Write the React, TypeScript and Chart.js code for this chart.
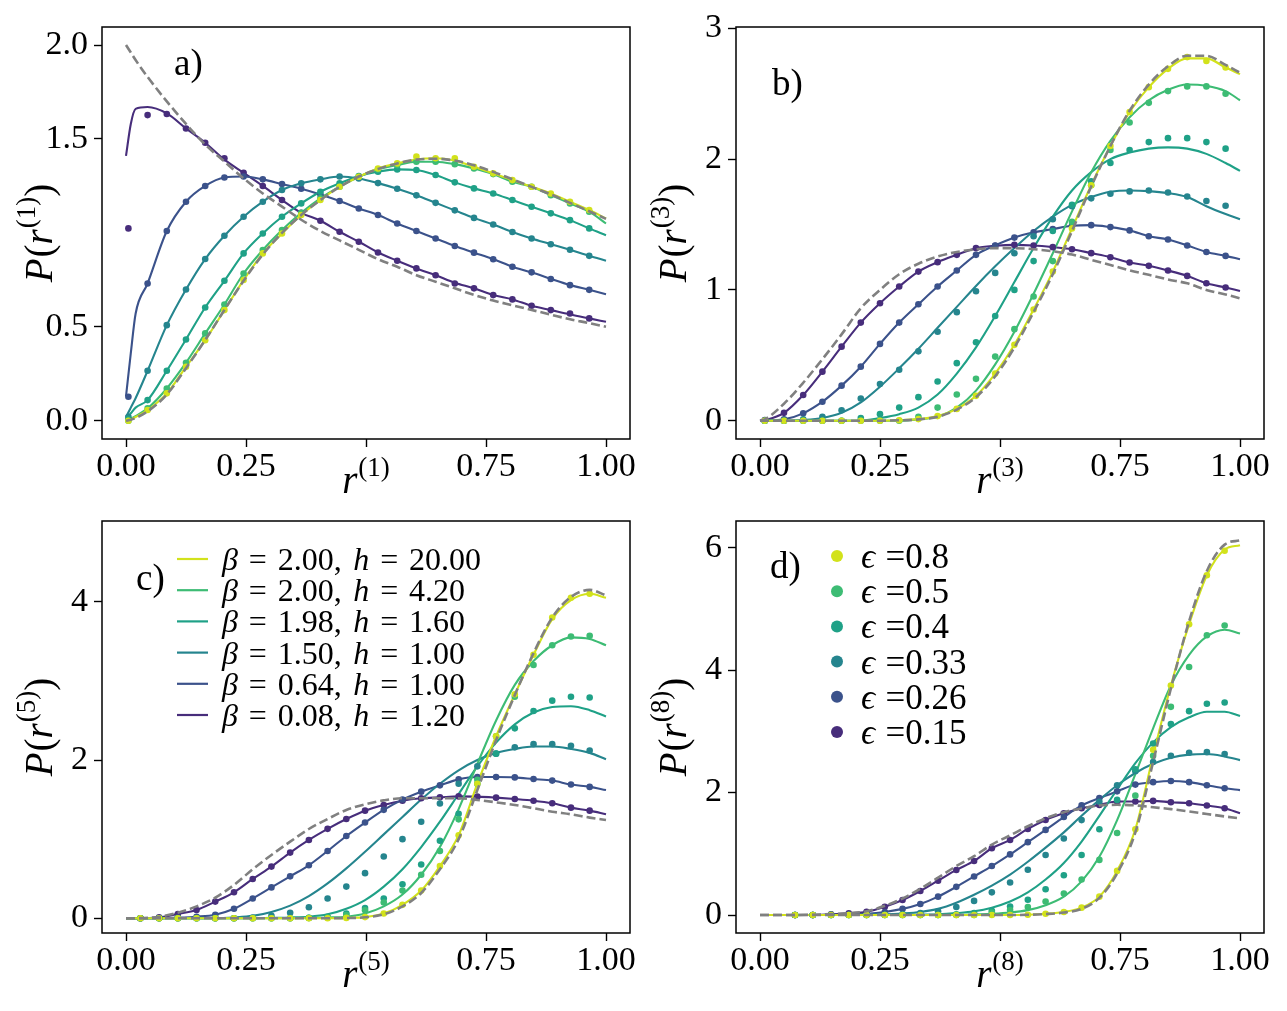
import React, { useEffect, useRef } from 'react';
import { Chart, registerables } from 'chart.js';

Chart.register(...registerables);

const W = 1287;
const H = 1011;
const FONT = '"Liberation Serif", "DejaVu Serif", serif';

// viridis-like colours, legend order (top to bottom)
const COLORS = ['#d2e21b', '#3dbc74', '#1fa187', '#25858e', '#3b528b', '#472d7b'];
const GREY = '#808080';
const BETA = ['2.00', '2.00', '1.98', '1.50', '0.64', '0.08'];
const H_VAL = ['20.00', '4.20', '1.60', '1.00', '1.00', '1.20'];
const EPS = ['0.8', '0.5', '0.4', '0.33', '0.26', '0.15'];
const X_TICKS = [0, 0.25, 0.5, 0.75, 1];

// ---------- panel a) r^(1) ----------
const XA_LINE = [0, 0.01, 0.02, 0.045, 0.085, 0.125, 0.165, 0.205, 0.245, 0.285, 0.325, 0.365, 0.405, 0.445, 0.485, 0.525, 0.565, 0.605, 0.645, 0.685, 0.725, 0.765, 0.805, 0.845, 0.885, 0.925, 0.965, 1.0];
const XA_DOT = [0.005, 0.045, 0.085, 0.125, 0.165, 0.205, 0.245, 0.285, 0.325, 0.365, 0.405, 0.445, 0.485, 0.525, 0.565, 0.605, 0.645, 0.685, 0.725, 0.765, 0.805, 0.845, 0.885, 0.925, 0.965];
const A_Y_LINE = [0, 0.008, 0.02, 0.057, 0.146, 0.287, 0.429, 0.589, 0.749, 0.891, 0.997, 1.095, 1.175, 1.246, 1.299, 1.343, 1.37, 1.391, 1.397, 1.384, 1.352, 1.317, 1.281, 1.246, 1.21, 1.166, 1.122, 1.077];
const A_G_LINE = [0, 0.01, 0.025, 0.066, 0.172, 0.309, 0.465, 0.619, 0.784, 0.909, 1.015, 1.107, 1.184, 1.246, 1.299, 1.338, 1.361, 1.379, 1.379, 1.366, 1.343, 1.313, 1.272, 1.246, 1.201, 1.157, 1.113, 1.05];
const A_TG_LINE = [0.01, 0.04, 0.07, 0.11, 0.266, 0.433, 0.603, 0.745, 0.891, 0.997, 1.086, 1.157, 1.219, 1.264, 1.303, 1.326, 1.338, 1.335, 1.308, 1.269, 1.237, 1.21, 1.175, 1.139, 1.104, 1.068, 1.024, 0.988];
const A_T_LINE = [0.02, 0.07, 0.12, 0.266, 0.509, 0.699, 0.861, 0.985, 1.086, 1.166, 1.228, 1.264, 1.285, 1.3, 1.29, 1.265, 1.235, 1.2, 1.16, 1.12, 1.08, 1.045, 1.005, 0.97, 0.94, 0.91, 0.878, 0.852];
const A_B_LINE = [0.13, 0.36, 0.57, 0.731, 1.01, 1.166, 1.25, 1.295, 1.3, 1.285, 1.26, 1.235, 1.205, 1.17, 1.13, 1.095, 1.05, 1.01, 0.97, 0.93, 0.895, 0.86, 0.82, 0.79, 0.755, 0.722, 0.697, 0.674];
const A_P_LINE = [1.41, 1.58, 1.66, 1.67, 1.636, 1.556, 1.48, 1.39, 1.32, 1.25, 1.175, 1.107, 1.065, 1.006, 0.953, 0.896, 0.852, 0.811, 0.775, 0.735, 0.705, 0.669, 0.646, 0.612, 0.589, 0.566, 0.545, 0.527];
const A_Y_DOT = [0, 0.057, 0.146, 0.287, 0.429, 0.589, 0.749, 0.891, 0.997, 1.095, 1.175, 1.246, 1.299, 1.343, 1.37, 1.406, 1.397, 1.397, 1.352, 1.317, 1.281, 1.246, 1.21, 1.166, 1.122];
const A_G_DOT = [0, 0.066, 0.172, 0.309, 0.465, 0.619, 0.784, 0.909, 1.015, 1.107, 1.184, 1.246, 1.299, 1.338, 1.361, 1.379, 1.379, 1.366, 1.343, 1.313, 1.272, 1.246, 1.201, 1.157, 1.113];
const A_TG_DOT = [0.01, 0.11, 0.266, 0.433, 0.603, 0.745, 0.891, 0.997, 1.086, 1.157, 1.219, 1.264, 1.303, 1.326, 1.338, 1.335, 1.308, 1.269, 1.237, 1.21, 1.175, 1.139, 1.104, 1.068, 1.024];
const A_T_DOT = [0.02, 0.266, 0.509, 0.699, 0.861, 0.985, 1.086, 1.166, 1.228, 1.264, 1.285, 1.3, 1.29, 1.265, 1.235, 1.2, 1.16, 1.12, 1.08, 1.045, 1.005, 0.97, 0.94, 0.91, 0.878];
const A_B_DOT = [0.128, 0.731, 1.01, 1.166, 1.25, 1.295, 1.3, 1.285, 1.26, 1.235, 1.205, 1.17, 1.13, 1.095, 1.05, 1.01, 0.97, 0.93, 0.895, 0.86, 0.82, 0.79, 0.755, 0.722, 0.697];
const A_P_DOT = [1.024, 1.627, 1.633, 1.556, 1.48, 1.397, 1.32, 1.25, 1.175, 1.107, 1.065, 1.006, 0.953, 0.896, 0.852, 0.811, 0.775, 0.731, 0.705, 0.669, 0.646, 0.612, 0.589, 0.571, 0.545];
const A_POI = [2.0, 1.96, 1.92, 1.83, 1.7, 1.58, 1.47, 1.38, 1.29, 1.21, 1.14, 1.07, 1.01, 0.96, 0.91, 0.86, 0.82, 0.775, 0.74, 0.705, 0.67, 0.64, 0.615, 0.59, 0.565, 0.54, 0.52, 0.5];
const A_GUE = [0, 0.005, 0.015, 0.05, 0.14, 0.28, 0.43, 0.59, 0.745, 0.885, 1.0, 1.095, 1.175, 1.245, 1.3, 1.34, 1.37, 1.39, 1.395, 1.385, 1.36, 1.325, 1.285, 1.245, 1.205, 1.16, 1.115, 1.075];

// ---------- panel b) r^(3) ----------
const XB_LINE = [0, 0.01, 0.05, 0.09, 0.13, 0.17, 0.21, 0.25, 0.29, 0.33, 0.37, 0.41, 0.45, 0.49, 0.53, 0.57, 0.61, 0.65, 0.69, 0.73, 0.77, 0.81, 0.85, 0.89, 0.93, 0.97, 1.0];
const XB_DOT = [0.01, 0.05, 0.09, 0.13, 0.17, 0.21, 0.25, 0.29, 0.33, 0.37, 0.41, 0.45, 0.49, 0.53, 0.57, 0.61, 0.65, 0.69, 0.73, 0.77, 0.81, 0.85, 0.89, 0.93, 0.97];
const B_Y_LINE = [0, 0, 0, 0, 0, 0, 0, 0, 0.003, 0.012, 0.035, 0.09, 0.19, 0.36, 0.58, 0.85, 1.14, 1.47, 1.8, 2.1, 2.36, 2.55, 2.69, 2.77, 2.77, 2.7, 2.65];
const B_G_LINE = [0, 0, 0, 0, 0, 0, 0, 0, 0, 0.01, 0.03, 0.1, 0.23, 0.43, 0.68, 0.97, 1.28, 1.6, 1.9, 2.14, 2.32, 2.45, 2.53, 2.57, 2.56, 2.52, 2.45];
const B_TG_LINE = [0, 0, 0, 0, 0, 0, 0, 0.02, 0.05, 0.1, 0.2, 0.36, 0.56, 0.8, 1.06, 1.32, 1.56, 1.76, 1.9, 2.0, 2.05, 2.08, 2.09, 2.08, 2.04, 1.97, 1.91];
const B_T_LINE = [0, 0, 0, 0.005, 0.02, 0.06, 0.14, 0.26, 0.4, 0.55, 0.71, 0.87, 1.03, 1.18, 1.32, 1.45, 1.56, 1.65, 1.71, 1.75, 1.76, 1.755, 1.74, 1.71, 1.64, 1.58, 1.54];
const B_B_LINE = [0, 0, 0.01, 0.056, 0.145, 0.268, 0.413, 0.587, 0.75, 0.89, 1.026, 1.148, 1.268, 1.34, 1.4, 1.44, 1.465, 1.49, 1.495, 1.48, 1.455, 1.41, 1.385, 1.34, 1.29, 1.26, 1.235];
const B_P_LINE = [0, 0.005, 0.06, 0.196, 0.375, 0.566, 0.75, 0.898, 1.026, 1.14, 1.212, 1.268, 1.319, 1.337, 1.344, 1.339, 1.327, 1.311, 1.281, 1.25, 1.209, 1.184, 1.148, 1.107, 1.051, 1.018, 0.992];
const B_Y_DOT = [0, 0, 0, 0, 0, 0, 0, 0.003, 0.012, 0.035, 0.09, 0.19, 0.36, 0.58, 0.85, 1.14, 1.47, 1.8, 2.1, 2.36, 2.55, 2.69, 2.78, 2.75, 2.7];
const B_G_DOT = [0, 0, 0, 0, 0, 0, 0, 0, 0.03, 0.1, 0.2, 0.32, 0.49, 0.7, 0.95, 1.22, 1.52, 1.8, 2.07, 2.28, 2.43, 2.52, 2.556, 2.556, 2.5];
const B_TG_DOT = [0, 0, 0, 0, 0, 0.02, 0.05, 0.1, 0.18, 0.3, 0.44, 0.6, 0.8, 1.0, 1.22, 1.45, 1.65, 1.83, 1.97, 2.07, 2.13, 2.16, 2.16, 2.13, 2.08];
const B_T_DOT = [0, 0, 0.01, 0.03, 0.08, 0.17, 0.28, 0.39, 0.53, 0.68, 0.83, 0.99, 1.13, 1.28, 1.41, 1.54, 1.64, 1.7, 1.735, 1.753, 1.76, 1.745, 1.714, 1.68, 1.643];
const B_B_DOT = [0, 0.01, 0.056, 0.145, 0.268, 0.413, 0.587, 0.75, 0.89, 1.026, 1.148, 1.268, 1.34, 1.4, 1.44, 1.465, 1.49, 1.495, 1.48, 1.455, 1.41, 1.385, 1.34, 1.29, 1.26];
const B_P_DOT = [0.005, 0.06, 0.196, 0.375, 0.566, 0.75, 0.898, 1.026, 1.14, 1.212, 1.268, 1.319, 1.337, 1.344, 1.339, 1.327, 1.311, 1.281, 1.25, 1.209, 1.184, 1.148, 1.107, 1.051, 1.018];
const B_POI = [0, 0.01, 0.13, 0.29, 0.47, 0.66, 0.86, 1.0, 1.12, 1.2, 1.255, 1.29, 1.31, 1.319, 1.319, 1.311, 1.295, 1.27, 1.23, 1.19, 1.15, 1.115, 1.08, 1.05, 1.0, 0.965, 0.936];
const B_GUE = [0, 0, 0, 0, 0, 0, 0, 0, 0.003, 0.01, 0.03, 0.085, 0.18, 0.34, 0.56, 0.83, 1.12, 1.45, 1.79, 2.1, 2.37, 2.57, 2.71, 2.79, 2.79, 2.72, 2.66];

// ---------- panel c) r^(5) ----------
const XC_LINE = [0, 0.03, 0.069, 0.108, 0.147, 0.186, 0.225, 0.264, 0.303, 0.342, 0.381, 0.42, 0.459, 0.498, 0.537, 0.576, 0.615, 0.654, 0.693, 0.732, 0.771, 0.81, 0.849, 0.888, 0.927, 0.966, 1.0];
const XC_DOT = [0.03, 0.069, 0.108, 0.147, 0.186, 0.225, 0.264, 0.303, 0.342, 0.381, 0.42, 0.459, 0.498, 0.537, 0.576, 0.615, 0.654, 0.693, 0.732, 0.771, 0.81, 0.849, 0.888, 0.927, 0.966];
const C_Y_LINE = [0, 0, 0, 0, 0, 0, 0, 0, 0, 0, 0, 0, 0.005, 0.015, 0.06, 0.17, 0.35, 0.66, 1.05, 1.7, 2.3, 2.83, 3.33, 3.78, 4.02, 4.1, 4.05];
const C_G_LINE = [0, 0, 0, 0, 0, 0, 0, 0, 0, 0, 0.005, 0.01, 0.02, 0.06, 0.15, 0.3, 0.55, 0.9, 1.38, 1.95, 2.5, 2.95, 3.25, 3.45, 3.55, 3.53, 3.45];
const C_TG_LINE = [0, 0, 0, 0, 0, 0, 0, 0, 0.005, 0.01, 0.02, 0.05, 0.12, 0.23, 0.4, 0.62, 0.9, 1.22, 1.57, 1.92, 2.22, 2.45, 2.6, 2.67, 2.68, 2.63, 2.55];
const C_T_LINE = [0, 0, 0, 0, 0, 0, 0.01, 0.03, 0.08, 0.16, 0.28, 0.44, 0.63, 0.84, 1.06, 1.28, 1.5, 1.7, 1.87, 2.0, 2.09, 2.14, 2.17, 2.17, 2.14, 2.09, 2.01];
const C_B_LINE = [0, 0, 0.002, 0.008, 0.02, 0.045, 0.12, 0.25, 0.39, 0.53, 0.67, 0.85, 1.04, 1.21, 1.37, 1.5, 1.6, 1.68, 1.755, 1.785, 1.785, 1.78, 1.76, 1.74, 1.69, 1.66, 1.62];
const C_P_LINE = [0, 0, 0.013, 0.055, 0.105, 0.211, 0.328, 0.497, 0.653, 0.83, 0.99, 1.13, 1.255, 1.36, 1.432, 1.486, 1.516, 1.528, 1.54, 1.537, 1.524, 1.507, 1.486, 1.453, 1.398, 1.36, 1.314];
const C_Y_DOT = [0, 0, 0, 0, 0, 0, 0, 0, 0, 0, 0, 0.005, 0.015, 0.06, 0.17, 0.35, 0.66, 1.05, 1.7, 2.3, 2.83, 3.33, 3.8, 4.05, 4.1];
const C_G_DOT = [0, 0, 0, 0, 0, 0, 0, 0, 0, 0.005, 0.01, 0.04, 0.1, 0.2, 0.35, 0.55, 0.85, 1.25, 1.75, 2.3, 2.8, 3.2, 3.45, 3.56, 3.57];
const C_TG_DOT = [0, 0, 0, 0, 0, 0, 0, 0, 0, 0.005, 0.02, 0.06, 0.13, 0.25, 0.43, 0.68, 0.98, 1.32, 1.7, 2.08, 2.4, 2.62, 2.75, 2.8, 2.79];
const C_T_DOT = [0, 0, 0, 0, 0, 0, 0.01, 0.03, 0.07, 0.14, 0.25, 0.4, 0.57, 0.78, 1.0, 1.22, 1.45, 1.7, 1.92, 2.08, 2.16, 2.2, 2.2, 2.18, 2.12];
const C_B_DOT = [0, 0.002, 0.008, 0.02, 0.045, 0.12, 0.25, 0.39, 0.53, 0.67, 0.85, 1.04, 1.21, 1.37, 1.5, 1.6, 1.68, 1.755, 1.785, 1.785, 1.78, 1.76, 1.74, 1.69, 1.66];
const C_P_DOT = [0, 0.013, 0.055, 0.105, 0.211, 0.328, 0.497, 0.653, 0.83, 0.99, 1.13, 1.255, 1.36, 1.432, 1.486, 1.516, 1.528, 1.54, 1.537, 1.524, 1.507, 1.486, 1.453, 1.398, 1.36];
const C_POI = [0, 0.002, 0.02, 0.07, 0.15, 0.26, 0.421, 0.619, 0.8, 0.968, 1.128, 1.255, 1.368, 1.44, 1.49, 1.516, 1.516, 1.516, 1.516, 1.495, 1.465, 1.432, 1.39, 1.347, 1.314, 1.272, 1.242];
const C_GUE = [0, 0, 0, 0, 0, 0, 0, 0, 0, 0, 0, 0, 0.003, 0.012, 0.05, 0.15, 0.32, 0.62, 1.0, 1.62, 2.25, 2.82, 3.35, 3.8, 4.06, 4.15, 4.08];

// ---------- panel d) r^(8) ----------
const XD_LINE = [0, 0.073, 0.11, 0.148, 0.185, 0.222, 0.26, 0.297, 0.334, 0.371, 0.409, 0.446, 0.483, 0.521, 0.558, 0.595, 0.633, 0.67, 0.707, 0.744, 0.782, 0.819, 0.856, 0.894, 0.931, 0.968, 1.0];
const XD_DOT = [0.073, 0.11, 0.148, 0.185, 0.222, 0.26, 0.297, 0.334, 0.371, 0.409, 0.446, 0.483, 0.521, 0.558, 0.595, 0.633, 0.67, 0.707, 0.744, 0.782, 0.819, 0.856, 0.894, 0.931, 0.968];
const D_Y_LINE = [0, 0, 0, 0, 0, 0, 0, 0, 0, 0, 0, 0, 0, 0, 0.005, 0.02, 0.05, 0.12, 0.3, 0.72, 1.4, 2.6, 3.75, 4.75, 5.55, 5.97, 6.04];
const D_G_LINE = [0, 0, 0, 0, 0, 0, 0, 0, 0, 0, 0, 0.01, 0.02, 0.04, 0.08, 0.16, 0.3, 0.55, 0.95, 1.55, 2.3, 3.05, 3.75, 4.25, 4.55, 4.66, 4.6];
const D_TG_LINE = [0, 0, 0, 0, 0, 0, 0, 0, 0.005, 0.01, 0.03, 0.06, 0.12, 0.22, 0.37, 0.58, 0.85, 1.2, 1.62, 2.05, 2.48, 2.82, 3.07, 3.23, 3.32, 3.32, 3.25];
const D_T_LINE = [0, 0, 0, 0, 0, 0.005, 0.01, 0.025, 0.05, 0.1, 0.2, 0.33, 0.48, 0.66, 0.87, 1.1, 1.35, 1.62, 1.88, 2.12, 2.32, 2.47, 2.57, 2.62, 2.63, 2.59, 2.53];
const D_B_LINE = [0, 0, 0, 0.003, 0.008, 0.02, 0.05, 0.1, 0.18, 0.3, 0.46, 0.63, 0.8, 0.99, 1.19, 1.39, 1.6, 1.79, 1.91, 2.02, 2.13, 2.17, 2.19, 2.17, 2.12, 2.07, 2.04];
const D_P_LINE = [0, 0, 0, 0.011, 0.027, 0.054, 0.136, 0.245, 0.392, 0.561, 0.736, 0.883, 1.09, 1.226, 1.406, 1.553, 1.662, 1.744, 1.798, 1.853, 1.853, 1.864, 1.842, 1.826, 1.788, 1.744, 1.662];
const D_Y_DOT = [0, 0, 0, 0, 0, 0, 0, 0, 0, 0, 0, 0, 0, 0.005, 0.02, 0.05, 0.12, 0.3, 0.72, 1.4, 2.7, 3.75, 4.75, 5.55, 5.95];
const D_G_DOT = [0, 0, 0, 0, 0, 0, 0, 0, 0, 0, 0, 0.04, 0.08, 0.13, 0.22, 0.35, 0.58, 0.9, 1.34, 1.95, 2.6, 3.4, 4.05, 4.57, 4.73];
const D_TG_DOT = [0, 0, 0, 0, 0, 0, 0, 0, 0, 0.01, 0.03, 0.07, 0.14, 0.25, 0.42, 0.65, 0.98, 1.4, 1.88, 2.38, 2.8, 3.12, 3.33, 3.45, 3.47];
const D_T_DOT = [0, 0, 0, 0, 0, 0.005, 0.01, 0.03, 0.06, 0.13, 0.23, 0.37, 0.53, 0.74, 0.98, 1.25, 1.55, 1.85, 2.12, 2.35, 2.5, 2.6, 2.65, 2.66, 2.63];
const D_B_DOT = [0, 0, 0.003, 0.008, 0.02, 0.05, 0.1, 0.18, 0.3, 0.46, 0.63, 0.8, 0.99, 1.19, 1.39, 1.6, 1.79, 1.91, 2.02, 2.13, 2.17, 2.19, 2.17, 2.12, 2.07];
const D_P_DOT = [0, 0, 0.011, 0.027, 0.054, 0.136, 0.245, 0.392, 0.561, 0.736, 0.883, 1.09, 1.226, 1.406, 1.553, 1.662, 1.744, 1.798, 1.853, 1.853, 1.864, 1.842, 1.826, 1.788, 1.744];
const D_POI = [0, 0, 0.005, 0.015, 0.03, 0.06, 0.15, 0.27, 0.43, 0.61, 0.8, 0.96, 1.15, 1.3, 1.45, 1.58, 1.68, 1.74, 1.79, 1.8, 1.79, 1.76, 1.73, 1.69, 1.65, 1.61, 1.58];
const D_GUE = [0, 0, 0, 0, 0, 0, 0, 0, 0, 0, 0, 0, 0, 0, 0.003, 0.015, 0.04, 0.1, 0.28, 0.68, 1.35, 2.5, 3.7, 4.8, 5.62, 6.05, 6.12];

type Area = { l: number; t: number; r: number; b: number };
type Panel = {
  key: string;
  area: Area;
  yMin: number;
  yMax: number;
  yTicks: number[];
  yDigits: number;
  xLine: number[];
  xDot: number[];
  lines: number[][];
  dots: number[][];
  poisson: number[];
  gue: number[];
  label: string;
  labelPos: [number, number];
  sup: string;
  legend: 'lines' | 'dots' | null;
};

const PANELS: Panel[] = [
  {
    key: 'a', area: { l: 102, t: 27, r: 630, b: 439 }, yMin: -0.097, yMax: 2.096,
    yTicks: [0, 0.5, 1.5, 2.0], yDigits: 1, xLine: XA_LINE, xDot: XA_DOT,
    lines: [A_Y_LINE, A_G_LINE, A_TG_LINE, A_T_LINE, A_B_LINE, A_P_LINE],
    dots: [A_Y_DOT, A_G_DOT, A_TG_DOT, A_T_DOT, A_B_DOT, A_P_DOT],
    poisson: A_POI, gue: A_GUE, label: 'a)', labelPos: [72, 48], sup: '1', legend: null,
  },
  {
    key: 'b', area: { l: 736, t: 27, r: 1264, b: 439 }, yMin: -0.14, yMax: 3.01,
    yTicks: [0, 1, 2, 3], yDigits: 0, xLine: XB_LINE, xDot: XB_DOT,
    lines: [B_Y_LINE, B_G_LINE, B_TG_LINE, B_T_LINE, B_B_LINE, B_P_LINE],
    dots: [B_Y_DOT, B_G_DOT, B_TG_DOT, B_T_DOT, B_B_DOT, B_P_DOT],
    poisson: B_POI, gue: B_GUE, label: 'b)', labelPos: [36, 68], sup: '3', legend: null,
  },
  {
    key: 'c', area: { l: 102, t: 521, r: 630, b: 933 }, yMin: -0.186, yMax: 5.02,
    yTicks: [0, 2, 4], yDigits: 0, xLine: XC_LINE, xDot: XC_DOT,
    lines: [C_Y_LINE, C_G_LINE, C_TG_LINE, C_T_LINE, C_B_LINE, C_P_LINE],
    dots: [C_Y_DOT, C_G_DOT, C_TG_DOT, C_T_DOT, C_B_DOT, C_P_DOT],
    poisson: C_POI, gue: C_GUE, label: 'c)', labelPos: [34, 69], sup: '5', legend: 'lines',
  },
  {
    key: 'd', area: { l: 736, t: 521, r: 1264, b: 933 }, yMin: -0.294, yMax: 6.436,
    yTicks: [0, 2, 4, 6], yDigits: 0, xLine: XD_LINE, xDot: XD_DOT,
    lines: [D_Y_LINE, D_G_LINE, D_TG_LINE, D_T_LINE, D_B_LINE, D_P_LINE],
    dots: [D_Y_DOT, D_G_DOT, D_TG_DOT, D_T_DOT, D_B_DOT, D_P_DOT],
    poisson: D_POI, gue: D_GUE, label: 'd)', labelPos: [34, 57], sup: '8', legend: 'dots',
  },
];

type Seg = { t: string; s: number; it?: boolean; dy?: number; g?: number };
const fontOf = (sg: Seg) => `${sg.it ? 'italic ' : ''}${sg.s}px ${FONT}`;
function segsWidth(ctx: CanvasRenderingContext2D, segs: Seg[]) {
  let w = 0;
  for (const sg of segs) {
    ctx.font = fontOf(sg);
    w += ctx.measureText(sg.t).width + (sg.g || 0);
  }
  return w;
}
function drawSegs(ctx: CanvasRenderingContext2D, segs: Seg[], x: number, y: number) {
  let cx = x;
  for (const sg of segs) {
    ctx.font = fontOf(sg);
    ctx.fillText(sg.t, cx, y + (sg.dy || 0));
    cx += ctx.measureText(sg.t).width + (sg.g || 0);
  }
}

function decorPlugin(p: Panel) {
  return {
    id: 'decor_' + p.key,
    afterDraw(chart: any) {
      const ctx: CanvasRenderingContext2D = chart.ctx;
      const a = chart.chartArea;
      ctx.save();
      ctx.strokeStyle = '#000';
      ctx.lineWidth = 1.5;
      ctx.strokeRect(a.left, a.top, a.right - a.left, a.bottom - a.top);
      ctx.fillStyle = '#000';
      ctx.textAlign = 'left';
      ctx.textBaseline = 'alphabetic';

      // panel tag
      ctx.font = `37px ${FONT}`;
      ctx.fillText(p.label, a.left + p.labelPos[0], a.top + p.labelPos[1]);

      // x-axis title
      const xs: Seg[] = [
        { t: 'r', s: 39, it: true, g: 1 },
        { t: `(${p.sup})`, s: 27, dy: -17 },
      ];
      const xw = segsWidth(ctx, xs);
      const xc = chart.scales.x.getPixelForValue(0.5);
      drawSegs(ctx, xs, xc - xw / 2, a.bottom + 54);

      // y-axis title (rotated)
      const ys: Seg[] = [
        { t: 'P', s: 39, it: true, g: 1 },
        { t: '(', s: 39 },
        { t: 'r', s: 39, it: true, g: 1 },
        { t: `(${p.sup})`, s: 27, dy: -17 },
        { t: ')', s: 39 },
      ];
      const yw = segsWidth(ctx, ys);
      ctx.save();
      ctx.translate(a.left - 50, (a.top + a.bottom) / 2);
      ctx.rotate(-Math.PI / 2);
      drawSegs(ctx, ys, -yw / 2, 0);
      ctx.restore();

      if (p.legend === 'lines') {
        const F = 32;
        const gap = F * 0.34;
        for (let i = 0; i < 6; i++) {
          const y = a.top + 38 + i * 31.2;
          ctx.strokeStyle = COLORS[i];
          ctx.lineWidth = 2.2;
          ctx.beginPath();
          ctx.moveTo(a.left + 75, y);
          ctx.lineTo(a.left + 106, y);
          ctx.stroke();
          const segs: Seg[] = [
            { t: 'β', s: F, it: true, g: gap },
            { t: '=', s: F, g: gap },
            { t: BETA[i] + ',', s: F, g: F * 0.36 },
            { t: 'h', s: F, it: true, g: gap },
            { t: '=', s: F, g: gap },
            { t: H_VAL[i], s: F },
          ];
          drawSegs(ctx, segs, a.left + 120, y + 11);
        }
      } else if (p.legend === 'dots') {
        const F = 35;
        for (let i = 0; i < 6; i++) {
          const y = a.top + 35 + i * 35.2;
          ctx.fillStyle = COLORS[i];
          ctx.beginPath();
          ctx.arc(a.left + 101, y, 6, 0, Math.PI * 2);
          ctx.fill();
          ctx.fillStyle = '#000';
          const segs: Seg[] = [
            { t: 'ϵ', s: F, it: true, g: F * 0.3 },
            { t: '=' + EPS[i], s: F },
          ];
          drawSegs(ctx, segs, a.left + 125, y + 12);
        }
      }
      ctx.restore();
    },
  };
}

function buildConfig(p: Panel): any {
  const datasets: any[] = [];
  datasets.push({
    label: 'Poisson limit',
    data: p.xLine.map((x, j) => ({ x, y: p.poisson[j] })),
    showLine: true, borderColor: GREY, borderWidth: 2.6, borderDash: [9, 4],
    pointRadius: 0, cubicInterpolationMode: 'monotone', order: 0,
  });
  datasets.push({
    label: 'GUE limit',
    data: p.xLine.map((x, j) => ({ x, y: p.gue[j] })),
    showLine: true, borderColor: GREY, borderWidth: 2.6, borderDash: [9, 4],
    pointRadius: 0, cubicInterpolationMode: 'monotone', order: 0,
  });
  p.dots.forEach((ys, i) => {
    datasets.push({
      label: `ϵ =${EPS[i]}`,
      data: p.xDot.map((x, j) => ({ x, y: ys[j] })),
      showLine: false, pointRadius: 3.3, pointBorderWidth: 0,
      pointBackgroundColor: COLORS[i], backgroundColor: COLORS[i], borderColor: COLORS[i], order: 1,
    });
  });
  p.lines.forEach((ys, i) => {
    datasets.push({
      label: `β = ${BETA[i]}, h = ${H_VAL[i]}`,
      data: p.xLine.map((x, j) => ({ x, y: ys[j] })),
      showLine: true, borderColor: COLORS[i], borderWidth: 2.1, pointRadius: 0,
      cubicInterpolationMode: 'monotone', order: 2,
    });
  });

  const tickFont = { family: FONT, size: 34 };
  return {
    type: 'scatter',
    data: { datasets },
    options: {
      animation: false,
      responsive: false,
      events: [],
      layout: {
        padding: { left: p.area.l - 100, top: p.area.t, right: W - p.area.r, bottom: H - p.area.b - 90 },
      },
      plugins: { legend: { display: false }, tooltip: { enabled: false } },
      scales: {
        x: {
          type: 'linear', min: -0.05, max: 1.05,
          afterBuildTicks: (s: any) => { s.ticks = X_TICKS.map((v) => ({ value: v })); },
          afterFit: (s: any) => { s.height = 90; },
          ticks: {
            autoSkip: false, maxRotation: 0, minRotation: 0, padding: 0, color: '#000', font: tickFont,
            callback: (v: any) => (v === 0.5 ? '' : Number(v).toFixed(2)),
          },
          grid: { display: true, drawOnChartArea: false, drawTicks: true, tickLength: 8, tickWidth: 1.4, tickColor: '#000' },
          border: { display: false },
        },
        y: {
          type: 'linear', min: p.yMin, max: p.yMax,
          afterBuildTicks: (s: any) => { s.ticks = p.yTicks.map((v) => ({ value: v })); },
          afterFit: (s: any) => { s.width = 100; },
          ticks: {
            autoSkip: false, padding: 6, color: '#000', font: tickFont,
            callback: (v: any) => Number(v).toFixed(p.yDigits),
          },
          grid: { display: true, drawOnChartArea: false, drawTicks: true, tickLength: 8, tickWidth: 1.4, tickColor: '#000' },
          border: { display: false },
        },
      },
    },
    plugins: [decorPlugin(p)],
  };
}

function PanelChart({ p }: { p: Panel }) {
  const ref = useRef<HTMLCanvasElement>(null);
  useEffect(() => {
    if (!ref.current) return;
    const chart = new Chart(ref.current, buildConfig(p));
    return () => chart.destroy();
  }, [p]);
  return (
    <canvas
      ref={ref}
      width={W}
      height={H}
      style={{ position: 'absolute', left: 0, top: 0, width: W, height: H }}
    />
  );
}

export default function App() {
  return (
    <div style={{ position: 'fixed', left: 0, top: 0, width: W, height: H, background: '#fff', overflow: 'hidden' }}>
      {PANELS.map((p) => (
        <PanelChart key={p.key} p={p} />
      ))}
    </div>
  );
}
